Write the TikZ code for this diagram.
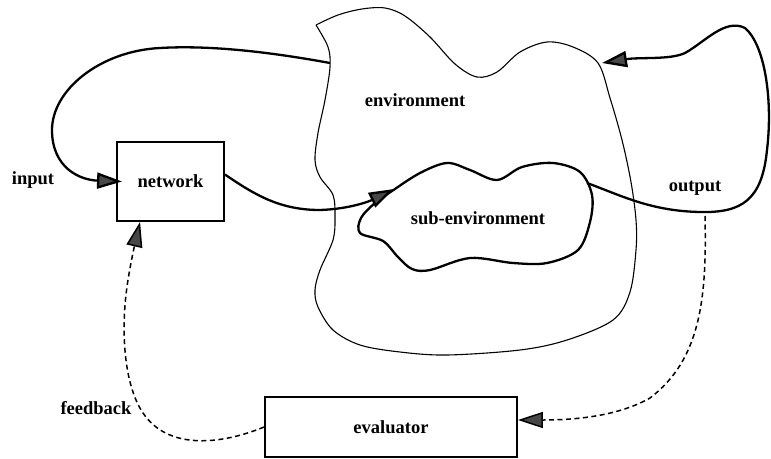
\documentclass[tikz,border=0pt]{standalone}
\usepackage{fontspec}
\setmainfont{Liberation Serif}
\usetikzlibrary{arrows.meta,calc}
\begin{document}
\begin{tikzpicture}[x=1pt,y=-1pt,
  lbl/.style={font=\fontsize{18.5}{20}\selectfont\bfseries, inner sep=0pt},
  boxnode/.style={draw, line width=1.9pt, inner sep=0pt, font=\fontsize{18.5}{20}\selectfont\bfseries},
  tip/.style={-{Triangle[length=25pt,width=16pt,fill=black!72]}},
  flow/.style={line width=2.3pt, tip},
  fb/.style={line width=1.5pt, dash pattern=on 5pt off 3.5pt, tip},
  region/.style={line width=1.1pt},
  subregion/.style={line width=2.3pt}]
\useasboundingbox (0,0) rectangle (771,458);

% boxes
\node[boxnode, minimum width=107pt, minimum height=79pt] (net) at (170.5,181.5) {network};
\node[boxnode, minimum width=252pt, minimum height=60pt] (eval) at (391,427) {evaluator};

% environment outline (pointed corner at the top left)
\draw[region, line join=miter] plot[smooth, tension=0.55] coordinates {
  (316,25) (328,47) (330,67) (325,100) (318,133) (315,160) (320,177) (333,195)
  (335,217) (333,240) (320,270) (315,290) (318,307) (333,330) (360,345) (400,352)
  (447,355) (520,350) (567,340) (613,320) (630,292) (636,250) (636,220) (631,182)
  (622,140) (610,98) (598,63) (573,47) (547,42) (520,52) (497,72) (477,77)
  (455,64) (430,37) (405,16) (385,8) (362,9) (338,15) (316,25)};

% sub-environment outline
\draw[subregion] plot[smooth cycle, tension=0.55] coordinates {
  (392,191) (420,173) (447,163) (470,170) (497,180) (522,167) (553,163) (580,172)
  (592,195) (590,222) (578,250) (547,263) (513,263) (470,258) (430,270) (412,269)
  (398,257) (383,241) (360,233) (361,218) (375,203)};

% points on the outlines where connectors start or end
\coordinate (envIn) at (330,63);
\coordinate (envOut) at (602,63);
\coordinate (subIn) at (394,189);
\coordinate (subOut) at (587,183);
\coordinate (evalTap) at (705,216);

% labels
\node[lbl] (lenv) at (415,100) {environment};
\node[lbl] (lsub) at (478,218) {sub-environment};
\node[lbl] (lin) at (33,180) {input};
\node[lbl] (lout) at (695,188) {output};
\node[lbl] (lfb) at (96,408) {feedback};

% input loop
\draw[flow] (envIn) .. controls (270,52) and (210,45) .. (160,48)
  .. controls (100,51) and (52,90) .. (52,130)
  .. controls (52,168) and (80,180) .. ([xshift=6pt]net.west);

% network into sub-environment
\draw[flow] ([yshift=7pt]net.east) .. controls (255,195) and (280,210) .. (320,210)
  .. controls (350,209) and (370,201) .. (subIn);

% output loop back to the environment
\draw[flow] (subOut) .. controls (620,195) and (650,211) .. (700,212)
  .. controls (742,213) and (762,200) .. (767,150)
  .. controls (773,100) and (765,45) .. (745,28)
  .. controls (725,18) and (705,42) .. (685,53)
  .. controls (670,60) and (640,57) .. (envOut);

% output to evaluator
\draw[fb] (evalTap) .. controls (707,300) and (700,360) .. (650,398)
  .. controls (620,415) and (580,420) .. ([yshift=7pt]eval.east);

% feedback to network
\draw[fb] (eval.west) .. controls (220,445) and (168,450) .. (143,413)
  .. controls (124,385) and (120,330) .. (128,280)
  .. controls (132,255) and (137,235) .. ($(net.south west)+(24,0)$);
\end{tikzpicture}
\end{document}
